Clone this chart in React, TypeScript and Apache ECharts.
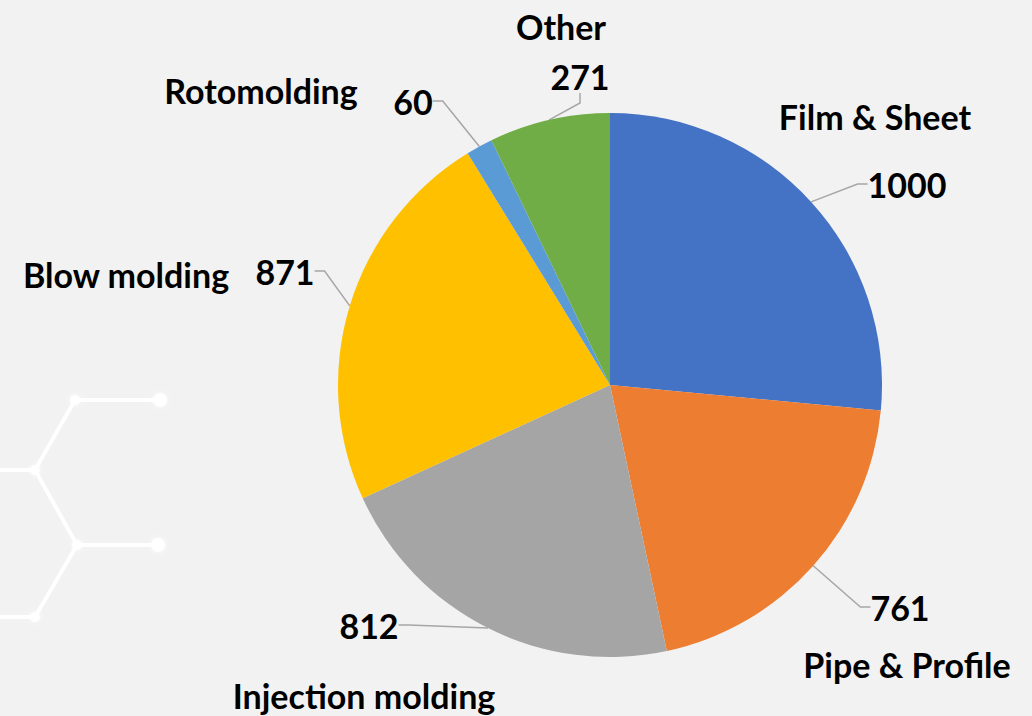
import React, { useEffect, useRef } from "react";
import * as echarts from "echarts";

const categories = ["Film & Sheet", "Pipe & Profile", "Injection molding", "Blow molding", "Rotomolding", "Other"];
const values = [1000, 761, 812, 871, 60, 271];
const colors = ["#4472C4", "#ED7D31", "#A5A5A5", "#FFC000", "#5B9BD5", "#70AD47"];

// label placement (centre of text), in pixels
const valueLabelPos = [
  [907, 184],
  [900, 607],
  [369, 625],
  [285, 271],
  [413, 101],
  [580, 76],
];
const nameLabelPos = [
  [875, 116],
  [907, 664],
  [364, 695],
  [126, 274],
  [261, 90],
  [561, 26],
];

const FONT = "Lato, 'Open Sans', sans-serif";
const FONT_SIZE = 34;

export default function App() {
  const ref = useRef<HTMLDivElement>(null);
  useEffect(() => {
    document.body.style.margin = "0";
    const chart = echarts.init(ref.current!, null, { renderer: "svg" });

    const white = "rgba(255,255,255,0.95)";
    const deco: any[] = [];
    const segs = [
      [75, 400, 160, 400],
      [75, 400, 35, 470],
      [0, 470, 35, 470],
      [35, 470, 77, 545],
      [77, 545, 158, 545],
      [77, 545, 35, 617],
      [0, 617, 35, 617],
    ];
    segs.forEach((s) =>
      deco.push({
        type: "line",
        silent: true,
        shape: { x1: s[0], y1: s[1], x2: s[2], y2: s[3] },
        style: { stroke: white, lineWidth: 4, lineCap: "round" },
      })
    );
    const dots = [
      [160, 400, 7],
      [158, 545, 7],
      [75, 400, 5],
      [35, 470, 5],
      [77, 545, 5],
      [35, 617, 5],
    ];
    dots.forEach((d) =>
      deco.push({
        type: "circle",
        silent: true,
        shape: { cx: d[0], cy: d[1], r: d[2] },
        style: { fill: white, shadowBlur: 5, shadowColor: "rgba(255,255,255,0.9)" },
      })
    );
    categories.forEach((name, i) =>
      deco.push({
        type: "text",
        silent: true,
        x: nameLabelPos[i][0],
        y: nameLabelPos[i][1],
        style: {
          text: name,
          fill: "#000",
          font: `bold ${FONT_SIZE}px ${FONT}`,
          align: "center",
          verticalAlign: "middle",
        },
      })
    );

    chart.setOption({
      animation: false,
      backgroundColor: "#F2F2F2",
      graphic: deco,
      series: [
        {
          type: "pie",
          center: [610, 385],
          radius: 272,
          startAngle: 90,
          clockwise: true,
          avoidLabelOverlap: false,
          data: categories.map((name, i) => ({
            name,
            value: values[i],
            itemStyle: { color: colors[i] },
          })),
          itemStyle: { borderWidth: 0 },
          label: {
            show: true,
            position: "outside",
            formatter: "{c}",
            color: "#000",
            fontFamily: FONT,
            fontWeight: "bold",
            fontSize: FONT_SIZE,
          },
          labelLine: {
            show: true,
            length: 10,
            length2: 10,
            lineStyle: { color: "#A6A6A6", width: 1.5 },
          },
          labelLayout: (params: any) => {
            const p = valueLabelPos[params.dataIndex];
            return { x: p[0], y: p[1], align: "center", verticalAlign: "middle" };
          },
        },
      ],
    });
    return () => chart.dispose();
  }, []);
  return <div ref={ref} style={{ position: "fixed", left: 0, top: 0, width: 1032, height: 716 }} />;
}
